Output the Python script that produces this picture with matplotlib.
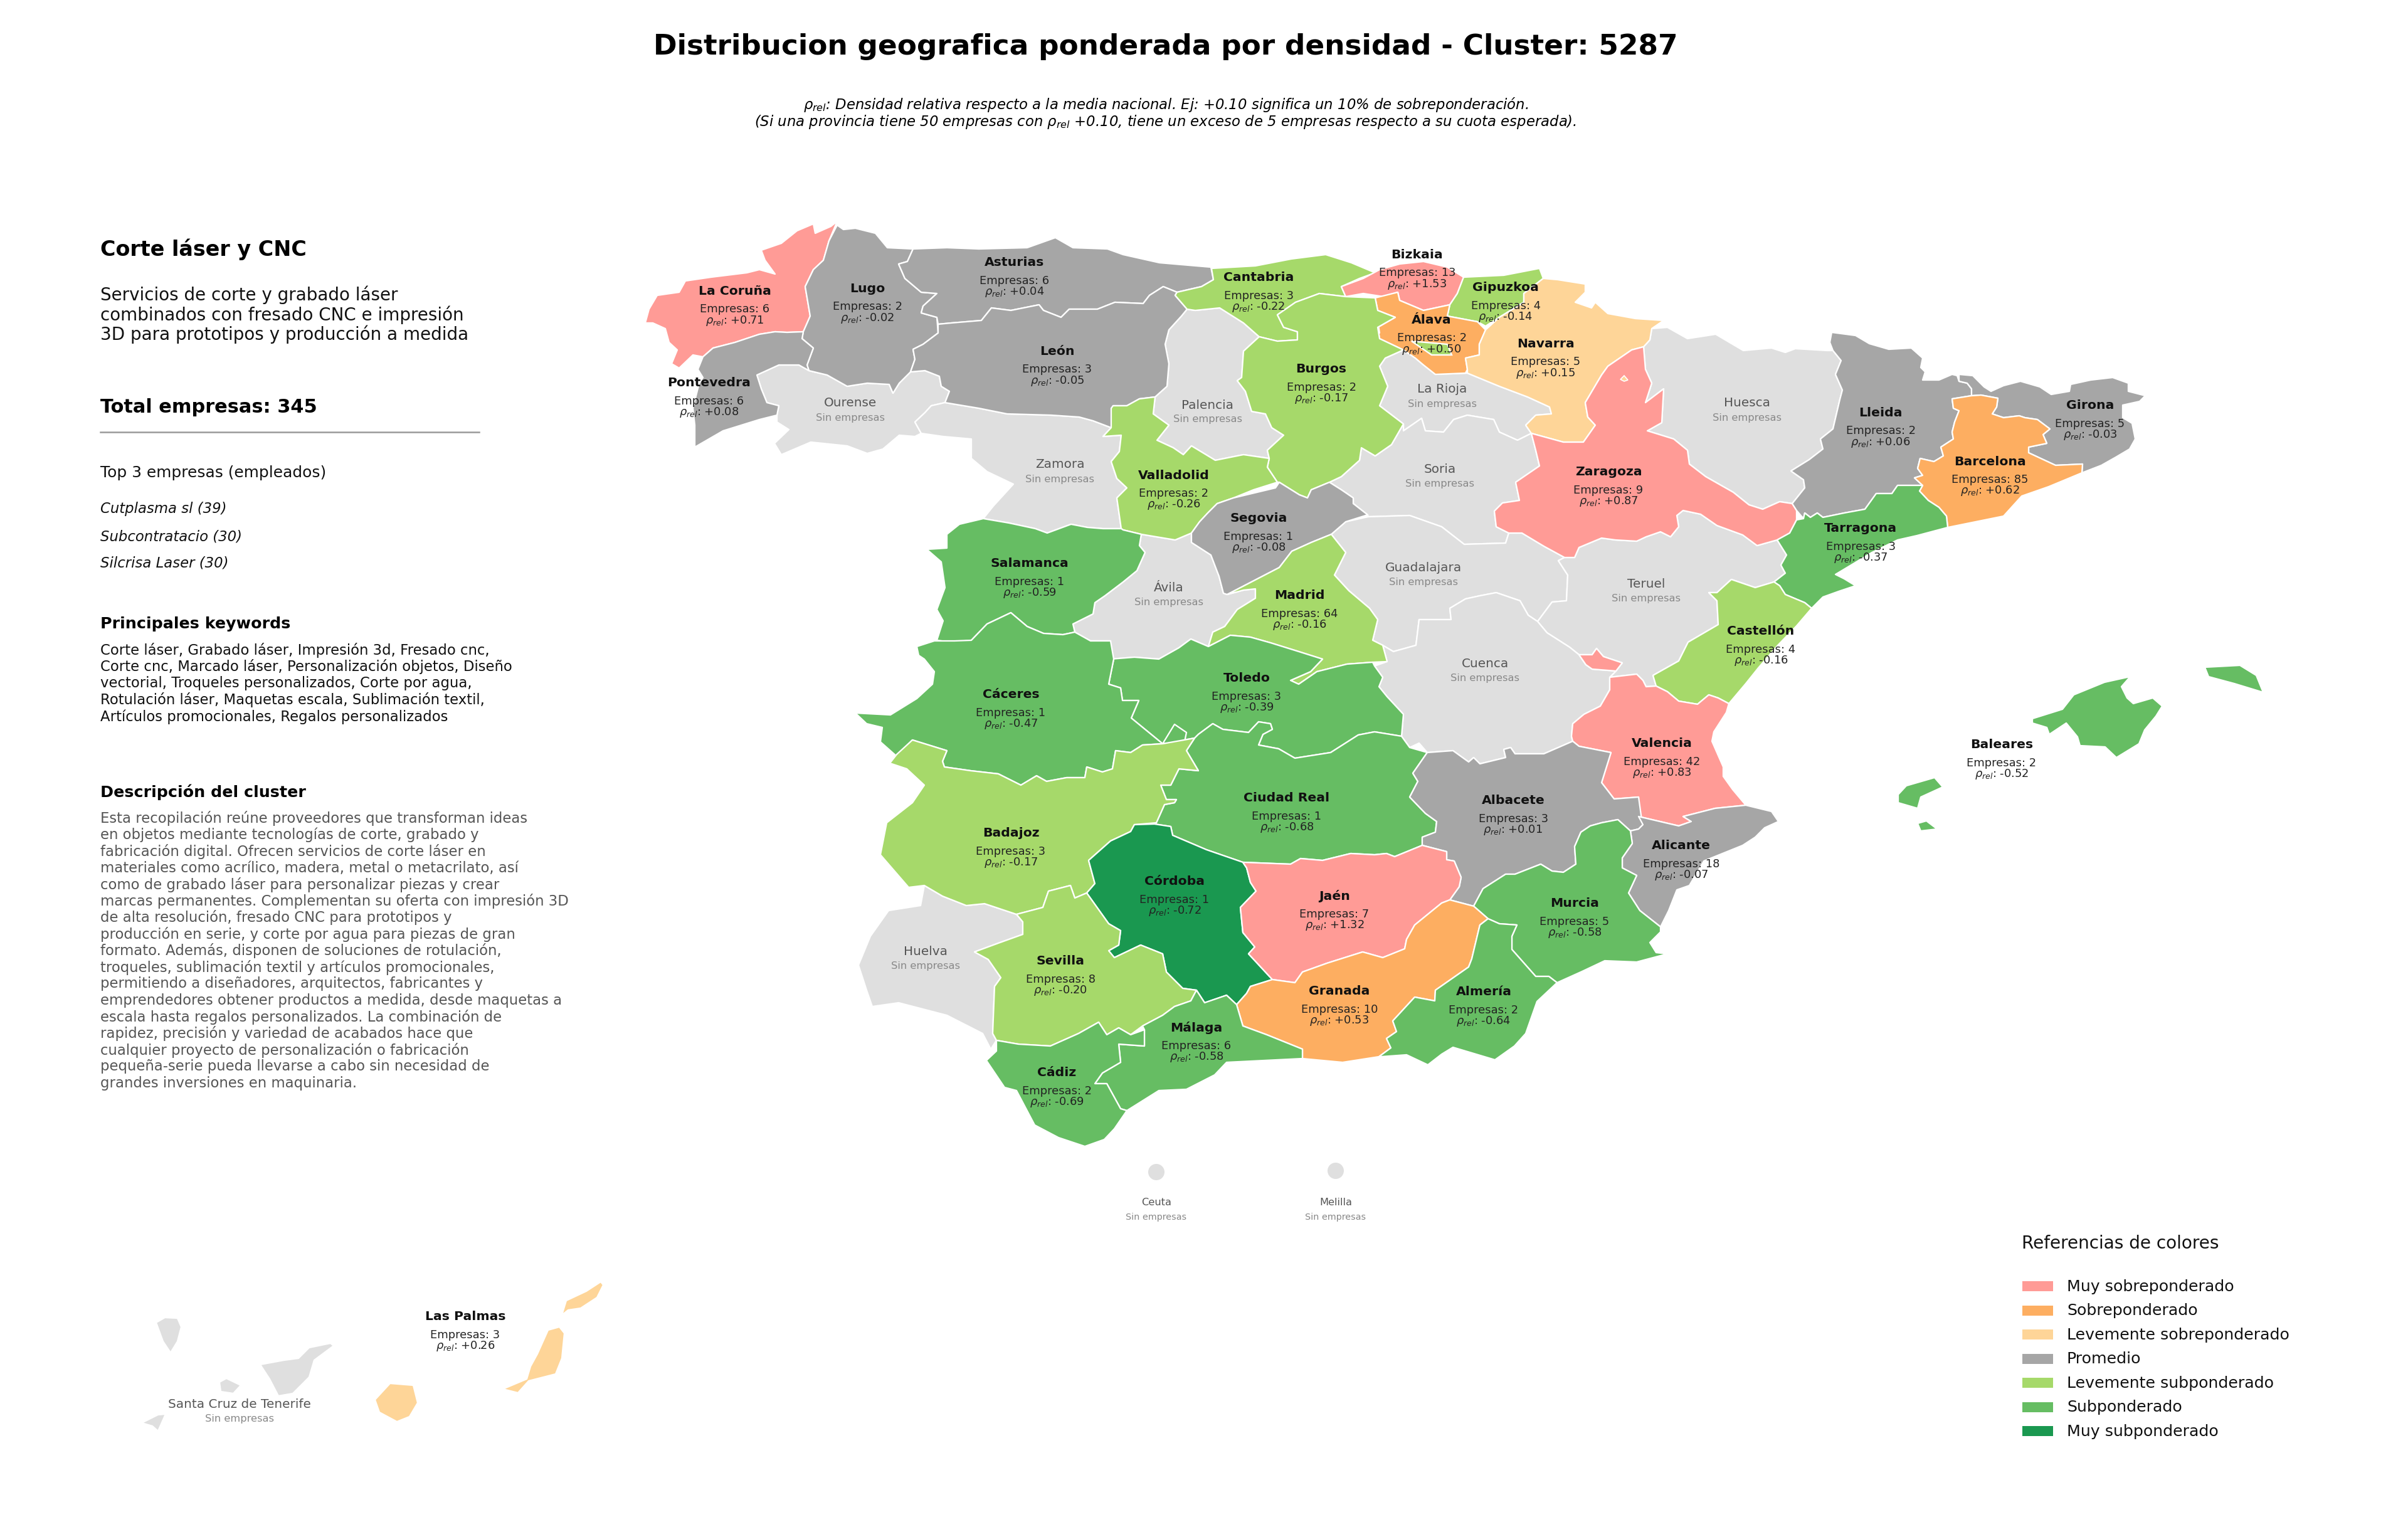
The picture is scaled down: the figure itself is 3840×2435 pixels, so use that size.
import matplotlib
matplotlib.use("Agg")
import matplotlib.pyplot as plt
from matplotlib.patches import Circle, Polygon, Rectangle

# --- province values ---
PROVINCES = ["La Coruña", "Lugo", "Asturias", "León", "Pontevedra", "Cantabria", "Bizkaia", "Gipuzkoa",
             "Álava", "Navarra", "Burgos", "Valladolid", "Segovia", "Zaragoza", "Lleida", "Girona",
             "Barcelona", "Tarragona", "Salamanca", "Madrid", "Castellón", "Toledo", "Cáceres", "Valencia",
             "Ciudad Real", "Albacete", "Badajoz", "Alicante", "Córdoba", "Jaén", "Murcia", "Sevilla",
             "Granada", "Almería", "Málaga", "Cádiz", "Baleares", "Las Palmas"]
EMPRESAS = [6, 2, 6, 3, 6, 3, 13, 4, 2, 5, 2, 2, 1, 9, 2, 5, 85, 3, 1, 64, 4, 3, 1, 42, 1, 3, 3, 18, 1, 7, 5, 8,
            10, 2, 6, 2, 2, 3]
RHO_REL = [0.71, -0.02, 0.04, -0.05, 0.08, -0.22, 1.53, -0.14, 0.50, 0.15, -0.17, -0.26, -0.08, 0.87, 0.06, -0.03,
           0.62, -0.37, -0.59, -0.16, -0.16, -0.39, -0.47, 0.83, -0.68, 0.01, -0.17, -0.07, -0.72, 1.32, -0.58,
           -0.20, 0.53, -0.64, -0.58, -0.69, -0.52, 0.26]
SIN_EMPRESAS = ["Ourense", "Palencia", "Zamora", "Ávila", "La Rioja", "Huesca", "Soria", "Guadalajara", "Teruel",
                "Cuenca", "Huelva", "Santa Cruz de Tenerife", "Ceuta", "Melilla"]

CATEGORIES = ["Muy sobreponderado", "Sobreponderado", "Levemente sobreponderado", "Promedio",
              "Levemente subponderado", "Subponderado", "Muy subponderado"]
CATEGORY_COLORS = ["#ff9b96", "#fdae61", "#fed598", "#a6a6a6", "#a6d96a", "#66bd63", "#1a9850"]
CATEGORY_LIMITS = [0.7, 0.4, 0.1, -0.1, -0.3, -0.7]
NO_DATA_COLOR = "#dfdfdf"

TOP_EMPRESAS = ["Cutplasma sl (39)", "Subcontratacio (30)", "Silcrisa Laser (30)"]
SERVICIOS = ["Servicios de corte y grabado láser", "combinados con fresado CNC e impresión",
             "3D para prototipos y producción a medida"]
KEYWORDS = ["Corte láser, Grabado láser, Impresión 3d, Fresado cnc,",
            "Corte cnc, Marcado láser, Personalización objetos, Diseño",
            "vectorial, Troqueles personalizados, Corte por agua,",
            "Rotulación láser, Maquetas escala, Sublimación textil,",
            "Artículos promocionales, Regalos personalizados"]
DESCRIPCION = ["Esta recopilación reúne proveedores que transforman ideas",
               "en objetos mediante tecnologías de corte, grabado y",
               "fabricación digital. Ofrecen servicios de corte láser en",
               "materiales como acrílico, madera, metal o metacrilato, así",
               "como de grabado láser para personalizar piezas y crear",
               "marcas permanentes. Complementan su oferta con impresión 3D",
               "de alta resolución, fresado CNC para prototipos y",
               "producción en serie, y corte por agua para piezas de gran",
               "formato. Además, disponen de soluciones de rotulación,",
               "troqueles, sublimación textil y artículos promocionales,",
               "permitiendo a diseñadores, arquitectos, fabricantes y",
               "emprendedores obtener productos a medida, desde maquetas a",
               "escala hasta regalos personalizados. La combinación de",
               "rapidez, precisión y variedad de acabados hace que",
               "cualquier proyecto de personalización o fabricación",
               "pequeña-serie pueda llevarse a cabo sin necesidad de",
               "grandes inversiones en maquinaria."]

LA_CORUNA = [(1335,354),(1322,385),(1313,416),(1297,431),(1284,458),(1292,505),(1281,530),(1255,531),(1236,530),(1211,534),(1172,547),(1137,556),(1121,570),(1105,567),(1083,588),(1071,581),(1080,559),(1067,547),(1061,525),(1041,516),(1029,516),(1035,494),(1048,472),(1083,467),(1093,449),(1134,443),(1191,436),(1211,431),(1236,438),(1220,416),(1214,400),(1246,389),(1271,369),(1297,358),(1300,373),(1325,362)]
LUGO = [(1335,360),(1345,367),(1364,365),(1396,373),(1415,396),(1456,398),(1447,418),(1433,422),(1443,445),(1469,467),(1494,469),(1472,489),(1469,500),(1494,507),(1496,532),(1472,550),(1456,558),(1459,574),(1452,594),(1434,612),(1424,628),(1418,614),(1383,612),(1351,617),(1319,599),(1290,592),(1287,583),(1297,556),(1279,541),(1281,530),(1292,505),(1284,458),(1297,431),(1313,416),(1322,385)]
PONTEVEDRA = [(1281,530),(1279,541),(1297,556),(1287,583),(1290,592),(1274,583),(1242,583),(1207,599),(1214,621),(1223,643),(1242,648),(1239,663),(1211,670),(1153,688),(1108,714),(1108,679),(1105,652),(1115,612),(1121,603),(1113,590),(1121,570),(1137,556),(1172,547),(1211,534),(1236,530),(1255,531)]
OURENSE = [(1290,592),(1319,599),(1351,617),(1383,612),(1418,614),(1424,628),(1434,612),(1452,594),(1475,592),(1498,601),(1501,617),(1514,625),(1507,643),(1485,648),(1475,659),(1459,674),(1469,692),(1459,697),(1434,695),(1408,717),(1383,724),(1351,712),(1293,706),(1246,726),(1235,708),(1258,686),(1239,674),(1239,663),(1242,648),(1223,643),(1214,621),(1207,599),(1242,583),(1274,583)]
ASTURIAS = [(1456,398),(1510,396),(1561,398),(1638,396),(1683,380),(1711,396),(1766,398),(1791,407),(1849,420),(1931,427),(1935,447),(1916,458),(1877,467),(1855,458),(1833,472),(1823,485),(1778,483),(1750,494),(1705,494),(1692,507),(1664,496),(1657,487),(1612,496),(1581,492),(1565,512),(1517,516),(1496,518),(1494,507),(1469,500),(1472,489),(1494,469),(1469,467),(1443,445),(1433,422),(1447,418)]
LEON = [(1496,518),(1517,516),(1565,512),(1581,492),(1612,496),(1657,487),(1664,496),(1692,507),(1705,494),(1750,494),(1778,483),(1823,485),(1833,472),(1855,458),(1877,467),(1874,472),(1893,494),(1884,505),(1864,527),(1858,550),(1864,581),(1861,617),(1852,625),(1842,634),(1817,637),(1797,648),(1775,648),(1772,683),(1743,672),(1721,666),(1676,663),(1606,661),(1561,652),(1507,643),(1514,625),(1501,617),(1498,601),(1475,592),(1452,594),(1459,574),(1456,558),(1472,550),(1496,532)]
ZAMORA = [(1507,643),(1561,652),(1606,661),(1676,663),(1721,666),(1743,672),(1772,683),(1759,697),(1788,695),(1785,721),(1772,737),(1781,764),(1797,779),(1781,795),(1788,844),(1759,844),(1734,842),(1708,837),(1670,851),(1651,844),(1609,835),(1568,828),(1584,808),(1616,773),(1574,753),(1549,732),(1549,701),(1504,697),(1469,692),(1459,674),(1475,659),(1485,648)]
SALAMANCA = [(1568,828),(1609,835),(1651,844),(1670,851),(1708,837),(1734,842),(1759,844),(1788,844),(1791,846),(1820,853),(1817,871),(1826,882),(1813,911),(1791,929),(1762,951),(1746,962),(1743,980),(1711,996),(1714,1009),(1695,1013),(1664,1011),(1638,1000),(1612,978),(1574,996),(1549,1022),(1517,1025),(1494,1022),(1504,991),(1494,973),(1507,938),(1501,897),(1478,877),(1510,875),(1510,853),(1530,837)]
CACERES = [(1462,1032),(1490,1023),(1522,1023),(1549,1022),(1574,996),(1612,978),(1638,1000),(1664,1011),(1695,1013),(1714,1009),(1739,1023),(1771,1023),(1776,1052),(1768,1092),(1787,1098),(1790,1118),(1816,1118),(1804,1146),(1854,1187),(1822,1189),(1803,1201),(1779,1198),(1774,1227),(1758,1232),(1733,1224),(1730,1241),(1701,1241),(1669,1247),(1653,1238),(1628,1253),(1592,1235),(1548,1230),(1506,1224),(1503,1215),(1510,1198),(1455,1181),(1430,1207),(1404,1184),(1407,1161),(1382,1155),(1364,1138),(1420,1141),(1462,1115),(1487,1092),(1490,1072),(1474,1052),(1465,1046)]
CACERES_ENCLAVE = [(1854,1187),(1873,1156),(1892,1169),(1889,1184)]
BADAJOZ = [(1455,1181),(1510,1198),(1503,1215),(1506,1224),(1548,1230),(1592,1235),(1628,1253),(1653,1238),(1669,1247),(1701,1241),(1730,1241),(1733,1224),(1758,1232),(1774,1227),(1779,1198),(1803,1201),(1822,1189),(1854,1187),(1905,1178),(1892,1198),(1911,1230),(1880,1227),(1867,1253),(1851,1253),(1860,1276),(1876,1276),(1873,1281),(1857,1284),(1844,1313),(1809,1316),(1803,1327),(1771,1342),(1736,1373),(1746,1410),(1733,1425),(1714,1433),(1707,1413),(1672,1422),(1663,1448),(1621,1459),(1570,1442),(1541,1445),(1503,1430),(1474,1413),(1449,1416),(1404,1364),(1414,1313),(1455,1281),(1474,1253),(1446,1227),(1419,1218),(1430,1204)]
HUELVA = [(1474,1413),(1503,1430),(1541,1445),(1570,1442),(1621,1459),(1631,1471),(1631,1491),(1592,1505),(1554,1519),(1576,1531),(1596,1560),(1586,1574),(1583,1649),(1589,1660),(1580,1674),(1567,1649),(1510,1620),(1433,1600),(1391,1606),(1382,1580),(1369,1540),(1388,1494),(1417,1453),(1468,1445)]
SEVILLA = [(1621,1459),(1663,1448),(1672,1422),(1707,1413),(1714,1433),(1733,1425),(1768,1474),(1787,1485),(1784,1508),(1768,1517),(1777,1528),(1819,1508),(1854,1522),(1860,1551),(1886,1577),(1908,1580),(1899,1597),(1873,1606),(1854,1620),(1822,1637),(1803,1651),(1784,1640),(1765,1651),(1752,1631),(1720,1649),(1675,1669),(1624,1666),(1589,1660),(1583,1649),(1586,1574),(1596,1560),(1576,1531),(1554,1519),(1592,1505),(1631,1491),(1631,1471)]
CORDOBA = [(1809,1316),(1841,1315),(1867,1319),(1870,1333),(1924,1356),(1982,1376),(1988,1385),(1994,1408),(2003,1422),(1978,1448),(1982,1488),(2001,1511),(1991,1522),(2029,1563),(1994,1574),(1988,1585),(1972,1603),(1956,1588),(1921,1600),(1908,1580),(1886,1577),(1860,1551),(1854,1522),(1819,1508),(1777,1528),(1768,1517),(1784,1508),(1787,1485),(1768,1474),(1733,1425),(1746,1410),(1736,1373),(1771,1342),(1803,1327)]
CADIZ = [(1589,1660),(1624,1666),(1675,1669),(1720,1649),(1752,1631),(1765,1651),(1784,1640),(1803,1651),(1825,1643),(1825,1669),(1784,1666),(1787,1695),(1758,1712),(1746,1729),(1765,1729),(1787,1769),(1797,1772),(1777,1801),(1761,1818),(1730,1829),(1688,1815),(1650,1795),(1621,1740),(1602,1735),(1573,1692),(1589,1677)]
MALAGA = [(1825,1643),(1822,1637),(1854,1620),(1873,1606),(1899,1597),(1908,1580),(1921,1600),(1956,1588),(1972,1603),(1982,1637),(2020,1651),(2077,1674),(2077,1689),(1956,1695),(1937,1715),(1892,1738),(1848,1740),(1797,1772),(1787,1769),(1765,1729),(1746,1729),(1758,1712),(1787,1695),(1784,1666),(1825,1669)]
JAEN = [(1982,1376),(2058,1379),(2074,1370),(2109,1373),(2154,1362),(2192,1364),(2211,1362),(2224,1367),(2268,1349),(2307,1359),(2307,1372),(2319,1374),(2330,1400),(2327,1415),(2312,1436),(2299,1441),(2256,1476),(2243,1499),(2240,1514),(2205,1528),(2173,1519),(2116,1537),(2077,1551),(2065,1568),(2029,1563),(1991,1522),(2001,1511),(1982,1488),(1978,1448),(2003,1422),(1994,1408),(1988,1385)]
CIUDAD_REAL = [(1905,1178),(1911,1172),(1934,1155),(1950,1164),(1991,1169),(2007,1152),(2026,1155),(2029,1164),(2014,1172),(2007,1189),(2039,1195),(2065,1210),(2122,1201),(2166,1173),(2192,1168),(2235,1175),(2248,1193),(2276,1201),(2253,1234),(2261,1247),(2248,1272),(2273,1298),(2291,1311),(2289,1328),(2268,1336),(2268,1349),(2224,1367),(2211,1362),(2192,1364),(2154,1362),(2109,1373),(2074,1370),(2058,1379),(1982,1376),(1924,1356),(1870,1333),(1867,1319),(1841,1315),(1844,1313),(1857,1284),(1873,1281),(1876,1276),(1860,1276),(1851,1253),(1867,1253),(1880,1227),(1911,1230),(1892,1198)]
TOLEDO = [(1771,1052),(1809,1049),(1848,1052),(1880,1034),(1899,1020),(1927,1032),(1962,1014),(1994,1017),(2026,1026),(2071,1040),(2109,1052),(2090,1072),(2058,1086),(2071,1092),(2100,1072),(2148,1060),(2189,1057),(2192,1063),(2205,1081),(2199,1096),(2212,1112),(2238,1140),(2235,1175),(2192,1168),(2166,1173),(2122,1201),(2065,1210),(2039,1195),(2007,1189),(2014,1172),(2029,1164),(2026,1155),(2007,1152),(1991,1169),(1950,1164),(1934,1155),(1911,1172),(1905,1178),(1854,1187),(1804,1146),(1816,1118),(1790,1118),(1787,1098),(1768,1092),(1776,1052)]
MADRID = [(2123,853),(2146,882),(2128,918),(2151,943),(2184,971),(2197,989),(2189,1022),(2205,1030),(2212,1056),(2189,1057),(2148,1060),(2100,1072),(2071,1092),(2058,1086),(2090,1072),(2109,1052),(2071,1040),(2026,1026),(1994,1017),(1962,1014),(1927,1032),(1934,1009),(1953,1000),(1973,973),(2002,955),(2002,940),(1983,942),(1957,949),(2040,906),(2060,880),(2091,866)]
SEGOVIA = [(2040,770),(2072,790),(2085,795),(2091,782),(2120,770),(2139,782),(2158,795),(2158,804),(2181,822),(2146,833),(2123,853),(2091,866),(2060,880),(2040,906),(1957,949),(1951,947),(1944,920),(1931,886),(1900,866),(1900,851),(1913,833),(1926,819),(1941,804),(1967,795),(2034,779)]
AVILA = [(1820,853),(1874,862),(1900,851),(1900,866),(1931,886),(1944,920),(1951,947),(1957,949),(1983,942),(2002,940),(2002,955),(1973,973),(1953,1000),(1934,1009),(1927,1032),(1899,1020),(1880,1034),(1848,1052),(1809,1049),(1771,1052),(1771,1023),(1739,1023),(1714,1009),(1711,996),(1743,980),(1746,962),(1762,951),(1791,929),(1813,911),(1826,882),(1817,871)]
VALLADOLID = [(1772,652),(1775,648),(1797,648),(1817,637),(1842,634),(1839,661),(1864,679),(1845,703),(1871,715),(1887,726),(1900,712),(1938,735),(1983,726),(2024,732),(2021,746),(2037,770),(1999,782),(1967,795),(1941,804),(1926,819),(1913,833),(1900,851),(1874,862),(1820,853),(1791,846),(1788,844),(1781,795),(1797,779),(1781,764),(1772,737),(1785,721),(1788,695),(1759,697),(1772,683)]
PALENCIA = [(1893,494),(1906,496),(1945,492),(1983,516),(2008,538),(1983,561),(1980,603),(1973,608),(1986,625),(1996,657),(2018,661),(2028,683),(2047,695),(2021,719),(2024,732),(1983,726),(1938,735),(1900,712),(1887,726),(1871,715),(1845,703),(1864,679),(1839,661),(1842,634),(1852,625),(1861,617),(1864,581),(1858,550),(1864,527),(1884,505)]
CANTABRIA = [(1932,429),(1935,447),(1916,458),(1877,467),(1874,472),(1893,494),(1906,496),(1945,492),(1983,516),(2008,538),(2037,545),(2069,543),(2069,530),(2047,523),(2037,503),(2066,483),(2104,469),(2146,474),(2139,458),(2168,445),(2193,436),(2155,420),(2114,407),(2059,414),(2002,425)]
BIZKAIA = [(2139,458),(2174,445),(2200,431),(2232,422),(2270,418),(2308,427),(2334,443),(2324,469),(2312,487),(2270,496),(2232,480),(2229,467),(2206,474),(2174,469),(2146,474)]
GIPUZKOA = [(2334,443),(2398,440),(2455,429),(2461,445),(2430,469),(2430,483),(2391,507),(2369,521),(2356,514),(2308,505),(2312,487),(2324,469)]
ALAVA = [(2229,467),(2232,480),(2270,496),(2312,487),(2308,505),(2356,514),(2369,527),(2359,550),(2359,567),(2337,572),(2340,590),(2337,596),(2289,598),(2270,583),(2257,572),(2238,559),(2200,541),(2197,523),(2225,507),(2197,496),(2193,476)]
ALAVA_EXCLAVE = [(2171,523),(2197,514),(2200,532),(2181,532)]
TREVINO = [(2251,545),(2308,550),(2315,567),(2283,567)]
NAVARRA = [(2461,445),(2484,447),(2528,454),(2528,467),(2512,483),(2538,492),(2544,483),(2564,501),(2608,509),(2653,512),(2634,525),(2631,543),(2621,554),(2602,559),(2564,585),(2554,599),(2528,643),(2532,666),(2544,679),(2525,706),(2493,706),(2442,692),(2433,679),(2449,663),(2474,661),(2471,650),(2436,634),(2391,617),(2340,596),(2340,590),(2337,572),(2359,567),(2359,550),(2369,527),(2391,507),(2430,483),(2430,469)]
PETILLA = [(2584,606),(2590,600),(2596,607),(2590,609)]
BURGOS = [(2104,469),(2146,474),(2193,476),(2197,496),(2225,507),(2197,523),(2200,541),(2238,559),(2209,572),(2200,585),(2213,617),(2200,648),(2238,677),(2219,710),(2193,728),(2171,715),(2168,735),(2139,761),(2120,770),(2091,782),(2085,795),(2072,790),(2040,770),(2037,770),(2021,746),(2024,732),(2021,719),(2047,695),(2028,683),(2018,661),(1996,657),(1986,625),(1973,608),(1980,603),(1983,561),(2008,538),(2037,545),(2069,543),(2069,530),(2047,523),(2037,503),(2066,483)]
LA_RIOJA = [(2209,572),(2238,559),(2257,572),(2270,583),(2289,598),(2340,596),(2391,617),(2436,634),(2471,650),(2474,661),(2449,663),(2433,679),(2442,692),(2420,703),(2391,690),(2382,670),(2340,663),(2318,670),(2302,690),(2273,688),(2267,668),(2238,688),(2238,677),(2200,648),(2213,617),(2200,585)]
SORIA = [(2238,688),(2267,668),(2273,688),(2302,690),(2318,670),(2340,663),(2382,670),(2391,690),(2420,703),(2442,692),(2449,719),(2455,744),(2417,770),(2423,799),(2396,803),(2383,816),(2386,841),(2406,851),(2401,867),(2335,869),(2299,841),(2248,823),(2182,825),(2181,822),(2158,804),(2158,795),(2139,782),(2120,770),(2139,761),(2168,735),(2171,715),(2193,728),(2219,710),(2238,677)]
ZARAGOZA = [(2621,554),(2602,559),(2564,585),(2554,599),(2528,643),(2532,666),(2544,679),(2525,706),(2493,706),(2442,692),(2449,719),(2455,744),(2417,770),(2423,799),(2396,803),(2383,816),(2386,841),(2406,851),(2427,851),(2462,872),(2495,890),(2511,890),(2518,874),(2554,859),(2576,862),(2610,864),(2625,857),(2648,849),(2664,857),(2677,841),(2674,823),(2684,815),(2712,821),(2738,839),(2779,854),(2802,871),(2834,862),(2854,851),(2865,830),(2865,815),(2858,804),(2838,801),(2811,813),(2789,806),(2764,786),(2720,761),(2694,741),(2691,719),(2669,701),(2627,688),(2650,675),(2653,621),(2624,643),(2634,612),(2624,590)]
HUESCA = [(2634,525),(2659,523),(2691,541),(2736,534),(2780,560),(2825,556),(2847,563),(2863,557),(2914,560),(2923,560),(2936,576),(2927,598),(2938,623),(2934,638),(2923,685),(2903,701),(2907,717),(2885,734),(2856,752),(2876,766),(2878,779),(2858,804),(2838,801),(2811,813),(2789,806),(2764,786),(2720,761),(2694,741),(2691,719),(2669,701),(2627,688),(2650,675),(2653,621),(2624,643),(2634,612),(2624,590),(2621,554),(2631,543)]
LLEIDA = [(2921,531),(2959,536),(2981,549),(3012,558),(3048,556),(3066,572),(3063,587),(3070,594),(3066,607),(3092,607),(3113,598),(3121,600),(3124,609),(3137,612),(3144,621),(3144,632),(3113,637),(3115,652),(3124,656),(3117,674),(3113,690),(3115,701),(3095,714),(3099,728),(3084,737),(3062,732),(3058,748),(3066,759),(3053,763),(3066,775),(3026,775),(3017,788),(2992,788),(2974,813),(2941,819),(2907,826),(2898,819),(2887,826),(2878,819),(2876,828),(2865,815),(2858,804),(2878,779),(2876,766),(2856,752),(2885,734),(2907,717),(2903,701),(2923,685),(2934,638),(2938,623),(2927,598),(2936,576),(2923,560),(2918,547)]
GIRONA = [(3124,598),(3146,600),(3164,618),(3175,625),(3195,616),(3222,609),(3253,618),(3271,630),(3300,625),(3302,614),(3334,607),(3369,603),(3394,612),(3394,625),(3421,632),(3412,641),(3385,647),(3385,667),(3400,676),(3405,701),(3396,717),(3374,730),(3351,743),(3320,755),(3321,741),(3278,743),(3235,723),(3235,714),(3264,708),(3258,694),(3269,685),(3249,670),(3229,667),(3220,664),(3195,667),(3177,661),(3184,650),(3186,636),(3159,631),(3144,632),(3144,621),(3137,612),(3124,609)]
BARCELONA = [(3113,637),(3144,632),(3159,631),(3186,636),(3184,650),(3177,661),(3195,667),(3220,664),(3229,667),(3249,670),(3269,685),(3258,694),(3264,708),(3235,714),(3235,723),(3278,743),(3321,741),(3320,755),(3267,777),(3224,792),(3195,824),(3106,842),(3104,824),(3092,810),(3075,799),(3061,784),(3066,775),(3053,763),(3066,759),(3058,748),(3062,732),(3084,737),(3099,728),(3095,714),(3115,701),(3113,690),(3117,674),(3124,656),(3115,652)]
TARRAGONA = [(3066,775),(3061,784),(3075,799),(3092,810),(3104,824),(3106,842),(3057,855),(3026,862),(2985,882),(2952,902),(2927,917),(2941,924),(2959,935),(2932,944),(2907,953),(2889,971),(2878,962),(2847,949),(2838,935),(2829,929),(2847,915),(2840,902),(2849,886),(2834,862),(2854,851),(2865,830),(2876,828),(2878,819),(2887,826),(2898,819),(2907,826),(2941,819),(2974,813),(2992,788),(3017,788),(3026,775)]
GUADALAJARA = [(2182,825),(2248,823),(2299,841),(2335,869),(2401,867),(2406,851),(2427,851),(2462,872),(2495,890),(2485,895),(2500,918),(2498,959),(2475,961),(2452,992),(2437,982),(2424,959),(2386,946),(2360,951),(2337,956),(2312,971),(2314,989),(2263,989),(2258,1030),(2222,1040),(2205,1030),(2189,1022),(2197,989),(2184,971),(2151,943),(2128,918),(2146,882),(2123,853),(2146,833)]
TERUEL = [(2495,890),(2511,890),(2518,874),(2554,859),(2576,862),(2610,864),(2625,857),(2648,849),(2664,857),(2677,841),(2674,823),(2684,815),(2712,821),(2738,839),(2779,854),(2802,871),(2834,862),(2849,886),(2840,902),(2847,915),(2829,929),(2799,938),(2761,925),(2738,946),(2725,946),(2738,959),(2740,997),(2692,1025),(2677,1055),(2636,1078),(2641,1095),(2625,1096),(2620,1086),(2610,1076),(2567,1081),(2577,1071),(2587,1058),(2557,1048),(2546,1035),(2539,1045),(2518,1045),(2503,1033),(2467,1010),(2452,992),(2475,961),(2498,959),(2500,918),(2485,895)]
ADEMUZ = [(2518,1045),(2539,1045),(2546,1035),(2557,1048),(2587,1058),(2577,1071),(2539,1068),(2529,1061)]
CUENCA = [(2452,992),(2467,1010),(2503,1033),(2518,1045),(2529,1061),(2539,1068),(2577,1071),(2567,1081),(2567,1101),(2552,1127),(2526,1140),(2508,1155),(2506,1175),(2508,1183),(2462,1203),(2416,1203),(2409,1193),(2398,1196),(2401,1209),(2360,1219),(2350,1209),(2342,1216),(2317,1198),(2276,1201),(2263,1186),(2248,1193),(2235,1175),(2238,1140),(2212,1112),(2199,1096),(2205,1081),(2192,1063),(2212,1056),(2205,1030),(2222,1040),(2258,1030),(2263,989),(2314,989),(2312,971),(2337,956),(2360,951),(2386,946),(2424,959),(2437,982)]
CASTELLON = [(2725,946),(2738,946),(2761,925),(2799,938),(2829,929),(2838,935),(2847,949),(2878,962),(2889,971),(2865,999),(2835,1030),(2804,1066),(2784,1091),(2757,1123),(2740,1114),(2725,1109),(2707,1124),(2677,1119),(2659,1104),(2641,1095),(2636,1078),(2677,1055),(2692,1025),(2740,997),(2738,959)]
VALENCIA = [(2567,1081),(2610,1076),(2620,1086),(2625,1096),(2641,1095),(2659,1104),(2677,1119),(2707,1124),(2725,1109),(2740,1114),(2757,1123),(2753,1137),(2733,1168),(2730,1183),(2748,1224),(2748,1239),(2763,1260),(2784,1285),(2735,1290),(2684,1303),(2697,1311),(2677,1318),(2613,1303),(2613,1272),(2574,1275),(2554,1249),(2569,1201),(2518,1191),(2508,1183),(2506,1175),(2508,1155),(2526,1140),(2552,1127),(2567,1101)]
ALBACETE = [(2276,1201),(2317,1198),(2342,1216),(2350,1209),(2360,1219),(2401,1209),(2398,1196),(2409,1193),(2416,1203),(2462,1203),(2508,1183),(2518,1191),(2569,1201),(2554,1249),(2574,1275),(2613,1272),(2618,1308),(2620,1316),(2613,1323),(2600,1326),(2580,1308),(2554,1313),(2536,1318),(2521,1328),(2511,1351),(2513,1379),(2493,1392),(2475,1390),(2457,1379),(2416,1395),(2401,1395),(2365,1418),(2350,1446),(2312,1436),(2327,1415),(2330,1400),(2319,1374),(2307,1372),(2307,1359),(2268,1349),(2268,1336),(2289,1328),(2291,1311),(2273,1298),(2248,1272),(2261,1247),(2253,1234)]
MURCIA = [(2350,1446),(2365,1418),(2401,1395),(2416,1395),(2457,1379),(2475,1390),(2493,1392),(2513,1379),(2511,1351),(2521,1328),(2536,1318),(2554,1313),(2580,1308),(2600,1326),(2603,1346),(2587,1369),(2587,1385),(2610,1397),(2597,1425),(2615,1453),(2648,1479),(2648,1487),(2631,1504),(2641,1520),(2659,1522),(2610,1535),(2559,1533),(2523,1550),(2483,1568),(2470,1558),(2449,1558),(2411,1515),(2411,1494),(2419,1476),(2391,1474),(2373,1466)]
ALICANTE = [(2613,1303),(2677,1318),(2697,1311),(2684,1303),(2735,1290),(2784,1285),(2825,1295),(2836,1311),(2814,1321),(2799,1336),(2779,1349),(2717,1374),(2694,1413),(2674,1420),(2661,1453),(2648,1479),(2615,1453),(2597,1425),(2610,1397),(2587,1385),(2587,1369),(2603,1346),(2600,1326),(2613,1323),(2620,1316)]
GRANADA = [(2312,1436),(2350,1446),(2373,1466),(2360,1476),(2358,1484),(2347,1530),(2342,1543),(2289,1580),(2288,1597),(2256,1591),(2221,1629),(2227,1646),(2211,1657),(2218,1672),(2199,1686),(2141,1695),(2077,1689),(2077,1674),(2020,1651),(1982,1637),(1972,1603),(1988,1585),(1994,1574),(2029,1563),(2065,1568),(2077,1551),(2116,1537),(2173,1519),(2205,1528),(2240,1514),(2243,1499),(2256,1476),(2299,1441)]
ALMERIA = [(2373,1466),(2391,1474),(2419,1476),(2411,1494),(2411,1515),(2449,1558),(2470,1558),(2483,1568),(2451,1598),(2433,1649),(2415,1669),(2384,1691),(2317,1671),(2299,1682),(2277,1699),(2243,1683),(2202,1686),(2199,1686),(2218,1672),(2211,1657),(2227,1646),(2221,1629),(2256,1591),(2288,1597),(2289,1580),(2342,1543),(2347,1530),(2358,1484),(2360,1476)]
MALLORCA = [(3241,1147),(3289,1132),(3307,1109),(3356,1089),(3374,1085),(3397,1080),(3383,1096),(3392,1114),(3402,1123),(3433,1114),(3448,1127),(3438,1143),(3420,1165),(3411,1187),(3375,1209),(3357,1192),(3317,1190),(3313,1176),(3295,1154),(3268,1172),(3264,1161),(3241,1154)]
MENORCA = [(3516,1065),(3572,1062),(3598,1078),(3609,1105),(3563,1091),(3522,1080)]
IBIZA = [(3040,1254),(3085,1241),(3098,1256),(3063,1272),(3058,1290),(3027,1281),(3027,1268)]
FORMENTERA = [(3058,1314),(3072,1310),(3089,1323),(3063,1326)]
LA_PALMA = [(249,2110),(263,2102),(283,2103),(289,2117),(283,2140),(272,2158),(260,2140)]
TENERIFE = [(415,2177),(453,2170),(476,2167),(493,2150),(527,2143),(532,2147),(501,2170),(493,2197),(467,2223),(444,2227),(430,2200)]
LA_GOMERA = [(350,2205),(361,2199),(384,2210),(372,2223),(352,2220)]
EL_HIERRO = [(226,2270),(252,2257),(264,2256),(252,2283),(243,2275)]
GRAN_CANARIA = [(598,2233),(622,2207),(659,2210),(666,2238),(653,2260),(633,2268),(605,2253)]
FUERTEVENTURA = [(874,2122),(892,2117),(900,2127),(896,2167),(886,2192),(843,2203),(826,2222),(802,2216),(840,2200),(846,2180),(857,2160)]
LANZAROTE = [(958,2045),(962,2050),(952,2070),(926,2087),(906,2090),(896,2098),(903,2075),(935,2060)]

OUTLINES = {
    "La Coruña": [LA_CORUNA], "Lugo": [LUGO], "Pontevedra": [PONTEVEDRA], "Ourense": [OURENSE], "Asturias": [ASTURIAS],
    "León": [LEON], "Zamora": [ZAMORA], "Salamanca": [SALAMANCA], "Cáceres": [CACERES, CACERES_ENCLAVE],
    "Badajoz": [BADAJOZ], "Huelva": [HUELVA], "Sevilla": [SEVILLA], "Córdoba": [CORDOBA], "Cádiz": [CADIZ],
    "Málaga": [MALAGA], "Jaén": [JAEN], "Ciudad Real": [CIUDAD_REAL], "Toledo": [TOLEDO], "Madrid": [MADRID],
    "Segovia": [SEGOVIA], "Ávila": [AVILA], "Valladolid": [VALLADOLID], "Palencia": [PALENCIA], "Cantabria": [CANTABRIA],
    "Burgos": [BURGOS], "Bizkaia": [BIZKAIA], "Gipuzkoa": [GIPUZKOA], "Álava": [ALAVA, ALAVA_EXCLAVE],
    "Navarra": [NAVARRA], "La Rioja": [LA_RIOJA], "Soria": [SORIA], "Zaragoza": [ZARAGOZA], "Huesca": [HUESCA],
    "Lleida": [LLEIDA], "Girona": [GIRONA], "Barcelona": [BARCELONA], "Tarragona": [TARRAGONA],
    "Guadalajara": [GUADALAJARA], "Teruel": [TERUEL], "Cuenca": [CUENCA], "Castellón": [CASTELLON],
    "Valencia": [VALENCIA, ADEMUZ], "Albacete": [ALBACETE], "Murcia": [MURCIA], "Alicante": [ALICANTE],
    "Granada": [GRANADA], "Almería": [ALMERIA], "Baleares": [MALLORCA, MENORCA, IBIZA, FORMENTERA],
    "Santa Cruz de Tenerife": [LA_PALMA, TENERIFE, LA_GOMERA, EL_HIERRO],
    "Las Palmas": [GRAN_CANARIA, FUERTEVENTURA, LANZAROTE],
}

LABEL_POS = {
    "La Coruña": (1172, 464), "Lugo": (1383, 460), "Asturias": (1618, 419), "León": (1686, 560),
    "Pontevedra": (1131, 611), "Ourense": (1356, 643), "Palencia": (1926, 646), "Zamora": (1690, 741),
    "Valladolid": (1872, 758), "Salamanca": (1642, 899), "Ávila": (1864, 938), "Cantabria": (2007, 443),
    "Bizkaia": (2260, 406), "Gipuzkoa": (2401, 459), "Álava": (2283, 510), "Navarra": (2465, 548),
    "Burgos": (2107, 589), "La Rioja": (2300, 621), "Huesca": (2786, 643), "Soria": (2296, 749),
    "Zaragoza": (2565, 753), "Segovia": (2007, 827), "Guadalajara": (2270, 906), "Teruel": (2625, 932),
    "Madrid": (2072, 950), "Lleida": (2999, 658), "Girona": (3333, 647), "Barcelona": (3173, 736),
    "Tarragona": (2967, 843), "Castellón": (2808, 1007), "Cuenca": (2368, 1059), "Toledo": (1988, 1082),
    "Cáceres": (1612, 1108), "Valencia": (2650, 1186), "Ciudad Real": (2052, 1273), "Albacete": (2413, 1277),
    "Badajoz": (1612, 1329), "Alicante": (2681, 1349), "Córdoba": (1873, 1406), "Jaén": (2128, 1429),
    "Murcia": (2511, 1441), "Sevilla": (1691, 1533), "Huelva": (1476, 1518), "Granada": (2136, 1581),
    "Almería": (2366, 1582), "Málaga": (1908, 1639), "Cádiz": (1685, 1711), "Baleares": (3192, 1188),
    "Las Palmas": (742, 2100), "Santa Cruz de Tenerife": (382, 2240), "Ceuta": (1844, 1918), "Melilla": (2130, 1918),
}
CITY_DOTS = {"Ceuta": (1844, 1870), "Melilla": (2130, 1868)}


def category_color(rho):
    for limit, color in zip(CATEGORY_LIMITS, CATEGORY_COLORS):
        if rho >= limit:
            return color
    return CATEGORY_COLORS[-1]


def draw_parts(ax, name, color):
    for part in OUTLINES[name]:
        ax.add_patch(Polygon(part, closed=True, facecolor=color, edgecolor="white", linewidth=0.55, joinstyle="round"))


def left_text(ax, y, text, **kw):
    ax.text(160, y, text, ha="left", va="center", **kw)


fig = plt.figure(figsize=(12.8, 8.12), dpi=300)
ax = fig.add_axes([0, 0, 1, 1])
ax.set_xlim(0, 3840)
ax.set_ylim(2436, 0)
ax.axis("off")

for name in SIN_EMPRESAS:
    if name in OUTLINES:
        draw_parts(ax, name, NO_DATA_COLOR)
for name, rho in zip(PROVINCES, RHO_REL):
    draw_parts(ax, name, category_color(rho))
# enclaves drawn over their surrounding province
ax.add_patch(Polygon(TREVINO, closed=True, facecolor=category_color(-0.17), edgecolor="white", linewidth=0.55))
ax.add_patch(Polygon(PETILLA, closed=True, facecolor=category_color(0.15), edgecolor="white", linewidth=0.4))
for x_y in CITY_DOTS.values():
    ax.add_patch(Circle(x_y, 13, facecolor=NO_DATA_COLOR, edgecolor="none"))

# labels on the map
for name, n, rho in zip(PROVINCES, EMPRESAS, RHO_REL):
    x, y = LABEL_POS[name]
    ax.text(x, y, name, ha="center", va="center", fontsize=4.9, fontweight="bold", color="#111111")
    ax.text(x, y + 29, f"Empresas: {n}", ha="center", va="center", fontsize=4.3, color="#222222")
    ax.text(x, y + 47, rf"$\rho_{{rel}}$: {rho:+.2f}", ha="center", va="center", fontsize=4.3, color="#222222")
for name in SIN_EMPRESAS:
    x, y = LABEL_POS[name]
    small = name in CITY_DOTS
    ax.text(x, y, name, ha="center", va="center", fontsize=3.9 if small else 4.8, color="#555555")
    ax.text(x, y + 23, "Sin empresas", ha="center", va="center", fontsize=3.45 if small else 3.9, color="#888888")

# title block
ax.text(1859, 74, "Distribucion geografica ponderada por densidad - Cluster: 5287", ha="center", va="center",
        fontsize=10.9, fontweight="bold", color="black")
ax.text(1859, 167, r"$\rho_{rel}$: Densidad relativa respecto a la media nacional. Ej: +0.10 significa un 10% de sobreponderación.",
        ha="center", va="center", fontsize=5.47, style="italic")
ax.text(1859, 195, r"(Si una provincia tiene 50 empresas con $\rho_{rel}$ +0.10, tiene un exceso de 5 empresas respecto a su cuota esperada).",
        ha="center", va="center", fontsize=5.47, style="italic")

# left panel
left_text(ax, 398, "Corte láser y CNC", fontsize=8.0, fontweight="bold")
for y, line in zip([470, 502, 533], SERVICIOS):
    left_text(ax, y, line, fontsize=6.68, color="#111111")
left_text(ax, 650, "Total empresas: 345", fontsize=7.3, fontweight="bold")
ax.plot([160, 764], [690, 690], color="#999999", linewidth=0.6)
left_text(ax, 754, "Top 3 empresas (empleados)", fontsize=5.98, color="#111111")
for y, line in zip([812, 856, 898], TOP_EMPRESAS):
    left_text(ax, y, line, fontsize=5.47, style="italic", color="#111111")
left_text(ax, 995, "Principales keywords", fontsize=6.1, fontweight="bold")
for i, line in enumerate(KEYWORDS):
    left_text(ax, 1037 + i * 26.5, line, fontsize=5.47, color="#111111")
left_text(ax, 1263, "Descripción del cluster", fontsize=6.1, fontweight="bold")
for i, line in enumerate(DESCRIPCION):
    left_text(ax, 1305 + i * 26.4, line, fontsize=5.47, color="#555555")

# colour key
ax.text(3224, 1983, "Referencias de colores", ha="left", va="center", fontsize=6.7, color="#111111")
for i, (label, color) in enumerate(zip(CATEGORIES, CATEGORY_COLORS)):
    y = 2052 + i * 38.5
    ax.add_patch(Rectangle((3225, y - 8), 49, 16, facecolor=color, edgecolor="none"))
    ax.text(3296, y, label, ha="left", va="center", fontsize=6.07, color="#111111")

fig.savefig("out.png", dpi=300, facecolor="white")
plt.close(fig)
